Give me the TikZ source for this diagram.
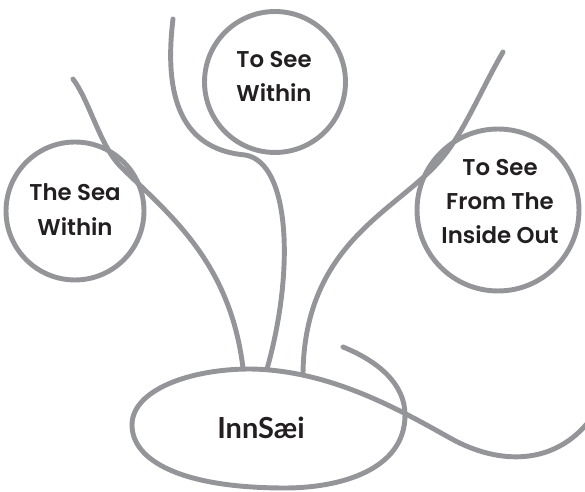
\documentclass[tikz,border=0pt]{standalone}
\usepackage{fontspec}
\usepackage{tikz}
\usetikzlibrary{positioning}
\newfontfamily\bubblefont{Poppins SemiBold}
\newfontfamily\rootfont{Lato}
\definecolor{strand}{HTML}{939598}
\definecolor{ink}{HTML}{231F20}
\tikzset{
  stem/.style = {draw=strand, line width=2.8pt, line cap=round},
  bubble/.style = {circle, stem, inner sep=0pt},
  caption/.style = {align=center, text=ink, font=\bubblefont\fontsize{13}{19.6}\selectfont},
  rootword/.style = {text=ink, font=\rootfont\bfseries\fontsize{16.5}{19}\selectfont},
}

\begin{document}
\begin{tikzpicture}[x=0.02cm, y=-0.02cm]
\useasboundingbox (0,0) rectangle (585,492);

% bubbles
\node[bubble, minimum size=2.76cm] (sea) at (75,211) {};
\node[bubble, minimum size=2.82cm] (within) at (275,82) {};
\node[bubble, minimum size=3.24cm] (inside) at (498,210) {};

\node[caption] (seaText) at (75,209.5) {The Sea\\Within};
\node[caption] (withinText) at (274,76.5) {To See\\Within};
\node[caption] (insideText) at (500,201.5) {To See\\From The\\Inside Out};

% strands
\coordinate (tipA) at (73,79);   \coordinate (rootA) at (243,368);
\coordinate (tipB) at (173,19);  \coordinate (rootB) at (267,369);
\coordinate (tipC) at (503,52);  \coordinate (rootC) at (303,373);

\draw[stem] (tipA) .. controls (90,102) and (100,146) .. (121,167)
  .. controls (170,215) and (230,262) .. (rootA);
\draw[stem] (tipB) .. controls (162,110) and (190,150) .. (245,155)
  .. controls (290,162) and (295,270) .. (rootB);
\draw[stem] (tipC) .. controls (482,88) and (465,130) .. (443,157)
  .. controls (400,210) and (305,240) .. (rootC);

% loop round the root word
\draw[stem] (343,347) .. controls (380,362) and (405,385) .. (405,415)
  .. controls (405,470) and (340,488) .. (285,488)
  .. controls (180,488) and (132,460) .. (132,425)
  .. controls (132,390) and (190,369) .. (250,369)
  .. controls (330,370) and (400,410) .. (450,438)
  .. controls (500,466) and (555,465) .. (590,420);
\node[rootword] (inn) at (261,428) {InnSæi};
\end{tikzpicture}
\end{document}
